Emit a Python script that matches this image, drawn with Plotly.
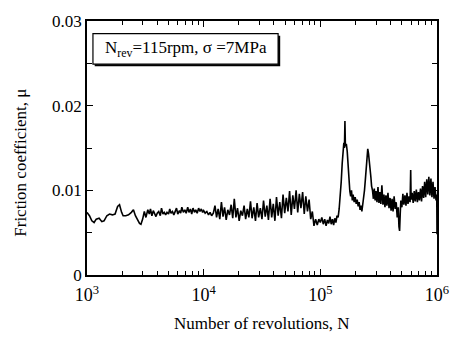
import plotly.graph_objects as go

# ---- data ----
n_dec1 = [1000, 1050, 1100, 1150, 1200, 1270, 1340, 1400, 1480, 1560, 1650, 1740, 1830, 1900,
          1980, 2040, 2150, 2270, 2400, 2500, 2600, 2700, 2820, 2900, 3000, 3100, 3200, 3320,
          3420, 3500, 3600, 3700, 3800, 3900, 4000, 4120, 4250, 4350, 4480, 4600, 4720, 4850,
          5000, 5120, 5250, 5400, 5550, 5700, 5850, 6000, 6200, 6350, 6500, 6700, 6900, 7080,
          7300, 7480, 7700, 7900, 8100, 8340, 8550, 8800, 9050, 9300, 9550, 9800]
mu_dec1 = [0.0074, 0.0070, 0.0064, 0.0062, 0.0066, 0.0067, 0.0063, 0.0064, 0.0070, 0.0072,
           0.0071, 0.0072, 0.0081, 0.0083, 0.0074, 0.0070, 0.0070, 0.0071, 0.0074, 0.0077,
           0.0070, 0.0065, 0.0061, 0.0060, 0.0066, 0.0075, 0.0068, 0.0077, 0.0072, 0.0078,
           0.0070, 0.0076, 0.0072, 0.0069, 0.0073, 0.0075, 0.0070, 0.0079, 0.0072, 0.0074,
           0.0071, 0.0074, 0.0072, 0.0078, 0.0073, 0.0075, 0.0071, 0.0075, 0.0079, 0.0072,
           0.0076, 0.0073, 0.0080, 0.0074, 0.0077, 0.0073, 0.0080, 0.0074, 0.0078, 0.0072,
           0.0079, 0.0074, 0.0077, 0.0073, 0.0079, 0.0075, 0.0078, 0.0074]

n_dec2 = [10000, 10300, 10650, 11000, 11350, 11700, 12100, 12500, 12900, 13300, 13750, 14200,
          14650, 15100, 15600, 16100, 16650, 17200, 17750, 18300, 18900, 19500, 20150, 20800,
          21500, 22200, 22900, 23650, 24400, 25200, 26000, 26900, 27800, 28700, 29600, 30600,
          31600, 32600, 33700, 34800, 35900, 37100, 38300, 39500, 40800, 42100, 43500, 44900,
          46400, 47900, 49500, 51100, 52800, 54500, 56300, 58100, 60000, 62000, 64000, 66100,
          68200, 70500, 72800, 75100, 77600, 80100, 82700, 85400, 88200, 91100, 94100, 97100]
mu_dec2 = [0.0076, 0.0073, 0.0075, 0.0071, 0.0074, 0.0070, 0.0073, 0.0082, 0.0068, 0.0078,
           0.0066, 0.0086, 0.0069, 0.0080, 0.0065, 0.0077, 0.0071, 0.0083, 0.0067, 0.0090,
           0.0068, 0.0079, 0.0064, 0.0076, 0.0070, 0.0082, 0.0066, 0.0078, 0.0068, 0.0087,
           0.0067, 0.0080, 0.0064, 0.0085, 0.0068, 0.0079, 0.0066, 0.0088, 0.0069, 0.0082,
           0.0065, 0.0090, 0.0068, 0.0084, 0.0064, 0.0092, 0.0070, 0.0086, 0.0067, 0.0095,
           0.0073, 0.0091, 0.0075, 0.0099, 0.0071, 0.0094, 0.0078, 0.0100, 0.0074, 0.0096,
           0.0079, 0.0098, 0.0072, 0.0093, 0.0075, 0.0089, 0.0066, 0.0075, 0.0058, 0.0066,
           0.0059, 0.0066]

n_dec3 = [100000, 103000, 106000, 109000, 112000, 115000, 118000, 121000, 124000, 127000,
          130000, 133000, 136000, 139000, 142000, 145000, 148000, 151000, 154000, 157000,
          159000, 161000, 162500, 164000, 167000, 170000, 173000, 176000, 179000, 182000,
          185000, 188000, 191000, 195000, 199000, 203000, 207000, 211000, 215000, 219000,
          223000, 227000, 231000, 235000, 239000, 243000, 247000, 251000, 255000, 259000,
          263000, 267000, 271000, 275000, 280000, 285000, 290000, 295000, 300000, 306000,
          312000, 318000, 324000, 330000, 337000, 344000, 351000, 358000, 365000, 372000,
          380000, 388000, 396000, 404000, 412000, 420000, 429000, 438000, 447000, 456000,
          465000, 472000, 478000, 484000, 490000, 500000, 510000, 520000, 531000, 542000,
          553000, 564000, 576000, 588000, 595000, 600000, 612000, 625000, 638000, 651000,
          665000, 679000, 693000, 707000, 722000, 737000, 752000, 768000, 784000, 800000,
          817000, 834000, 851000, 869000, 887000, 905000, 924000, 943000, 962000, 981000,
          995000, 1000000]
mu_dec3 = [0.0062, 0.0068, 0.0060, 0.0066, 0.0058, 0.0065, 0.0061, 0.0069, 0.0060, 0.0066,
           0.0059, 0.0067, 0.0062, 0.0070, 0.0068, 0.0078, 0.0092, 0.0110, 0.0132, 0.0150,
           0.0156, 0.0150, 0.0182, 0.0152, 0.0155, 0.0146, 0.0128, 0.0110, 0.0099, 0.0093,
           0.0100, 0.0088, 0.0095, 0.0086, 0.0092, 0.0084, 0.0089, 0.0081, 0.0086, 0.0077,
           0.0082, 0.0075, 0.0082, 0.0088, 0.0100, 0.0112, 0.0125, 0.0140, 0.0149, 0.0143,
           0.0130, 0.0121, 0.0116, 0.0105, 0.0100, 0.0090, 0.0102, 0.0088, 0.0099, 0.0086,
           0.0104, 0.0085, 0.0098, 0.0084, 0.0106, 0.0083, 0.0095, 0.0080, 0.0094, 0.0082,
           0.0097, 0.0079, 0.0091, 0.0076, 0.0090, 0.0075, 0.0093, 0.0078, 0.0086, 0.0068,
           0.0080, 0.0057, 0.0052, 0.0072, 0.0088, 0.0080, 0.0096, 0.0083, 0.0094, 0.0082,
           0.0097, 0.0084, 0.0093, 0.0086, 0.0124, 0.0089, 0.0097, 0.0085, 0.0099, 0.0087,
           0.0101, 0.0086, 0.0098, 0.0088, 0.0102, 0.0087, 0.0105, 0.0091, 0.0110, 0.0092,
           0.0113, 0.0095, 0.0116, 0.0094, 0.0114, 0.0092, 0.0110, 0.0090, 0.0104, 0.0088,
           0.0095, 0.0048]

x_tickvals = [1e3, 1e4, 1e5, 1e6]
x_ticktext = ["10<sup>3</sup>", "10<sup>4</sup>", "10<sup>5</sup>", "10<sup>6</sup>"]
y_tickvals = [0, 0.01, 0.02, 0.03]
y_ticktext = ["0", "0.01", "0.02", "0.03"]

N = n_dec1 + n_dec2 + n_dec3
mu = mu_dec1 + mu_dec2 + mu_dec3

FONT = "Liberation Serif, Times New Roman, serif"

fig = go.Figure()
fig.add_trace(go.Scatter(x=N, y=mu, mode="lines",
                         line=dict(color="black", width=1.6), showlegend=False))

fig.update_layout(
    width=461, height=349,
    margin=dict(l=87, r=20, t=17, b=74),
    paper_bgcolor="white", plot_bgcolor="white",
    font=dict(family=FONT, size=17, color="black"),
)
fig.update_xaxes(
    type="log", range=[3, 6],
    tickvals=x_tickvals, ticktext=x_ticktext,
    ticks="inside", ticklen=6, tickwidth=1.2, tickcolor="black",
    minor=dict(ticks="inside", ticklen=4, tickwidth=1, tickcolor="black", dtick="D1", showgrid=False),
    showline=True, linecolor="black", linewidth=1.5, mirror="allticks",
    showgrid=False, zeroline=False, ticklabelstandoff=3,
    tickfont=dict(family=FONT, size=18),
)
fig.update_yaxes(
    range=[0, 0.03],
    tickvals=y_tickvals, ticktext=y_ticktext,
    ticks="inside", ticklen=6, tickwidth=1.2, tickcolor="black",
    minor=dict(ticks="inside", ticklen=5, tickwidth=1, tickcolor="black", dtick=0.005, showgrid=False),
    showline=True, linecolor="black", linewidth=1.5, mirror="allticks",
    showgrid=False, zeroline=False,
    tickfont=dict(family=FONT, size=17),
)

# axis titles
fig.add_annotation(text="Number of revolutions, N", xref="paper", yref="paper",
                   x=0.5, y=-0.145, xanchor="center", yanchor="top", showarrow=False,
                   font=dict(family=FONT, size=17))
fig.add_annotation(text="Friction coefficient, μ", xref="paper", yref="paper",
                   x=-0.19, y=0.44, xanchor="center", yanchor="middle", textangle=-90,
                   showarrow=False, font=dict(family=FONT, size=17))

# condition box with shadow
fig.add_shape(type="rect", xref="paper", yref="paper", x0=0.022, x1=0.552, y0=0.822, y1=0.942,
              fillcolor="black", line=dict(width=0), layer="above")
fig.add_shape(type="rect", xref="paper", yref="paper", x0=0.017, x1=0.546, y0=0.830, y1=0.950,
              fillcolor="white", line=dict(color="black", width=1.2), layer="above")
fig.add_annotation(text="N<sub>rev</sub>=115rpm, σ =7MPa", xref="paper", yref="paper",
                   x=0.2815, y=0.890, xanchor="center", yanchor="middle", showarrow=False,
                   font=dict(family=FONT, size=17))

fig.write_html("out.html")
